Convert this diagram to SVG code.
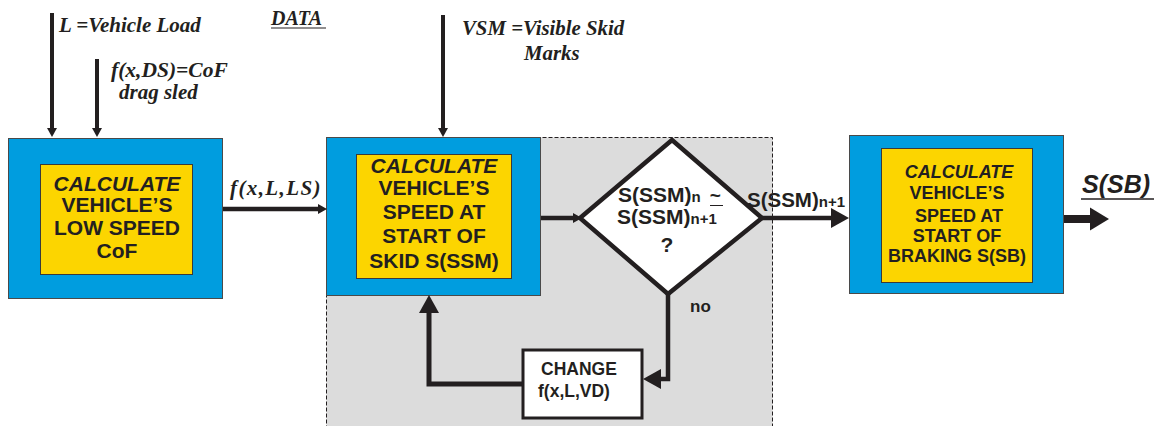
<svg xmlns="http://www.w3.org/2000/svg" width="1159" height="426" viewBox="0 0 1159 426">
<defs>
<style>
.blue{fill:#009ddf;stroke:#4a4a4a;stroke-width:1}
.yel{fill:#fcd500;stroke:#3a3a3a;stroke-width:1}
.sans{font-family:"Liberation Sans",Arial,sans-serif;font-weight:bold;fill:#231f20}
.serif{font-family:"Liberation Serif","Times New Roman",serif;font-weight:bold;font-style:italic;fill:#231f20}
.it{font-style:italic}
.ln{stroke:#231f20;fill:none}
</style>
<marker id="hs" markerUnits="userSpaceOnUse" markerWidth="10" markerHeight="12" refX="0" refY="5" orient="auto" viewBox="0 0 10 10" overflow="visible">
<path d="M0,0 L9,5 L0,10 Z" fill="#231f20"/>
</marker>
<marker id="hl" markerUnits="userSpaceOnUse" markerWidth="20" markerHeight="22" refX="0" refY="10" orient="auto" viewBox="0 0 20 20" overflow="visible">
<path d="M0,0 L18,10 L0,20 Z" fill="#231f20"/>
</marker>
<marker id="hx" markerUnits="userSpaceOnUse" markerWidth="20" markerHeight="24" refX="0" refY="11.5" orient="auto" viewBox="0 0 20 23" overflow="visible">
<path d="M0,0 L19,11.5 L0,23 Z" fill="#231f20"/>
</marker>
</defs>

<g id="loop-region">
<rect x="326.5" y="137.5" width="446" height="300" fill="#dcdcdc" stroke="#231f20" stroke-width="1" stroke-dasharray="4 2"/>
</g>

<g id="title">
<text class="serif" x="271" y="25" font-size="20">DATA</text>
<line x1="271" y1="28" x2="326" y2="28" stroke="#231f20" stroke-width="1.2"/>
</g>

<g id="data-labels">
<text class="serif" x="59" y="32" font-size="21">L =Vehicle Load</text>
<text class="serif" x="111" y="77" font-size="21.5">f(x,DS)=CoF</text>
<text class="serif" x="119" y="99" font-size="21">drag sled</text>
<text class="serif" x="462" y="35" font-size="20.8">VSM =Visible Skid</text>
<text class="serif" x="524" y="60" font-size="20.8">Marks</text>
</g>

<g id="node-lowspeed">
<rect class="blue" x="8.5" y="138.5" width="214" height="160"/>
<rect class="yel" x="40.5" y="164.5" width="152" height="110"/>
<g class="sans" font-size="21" text-anchor="middle">
<text class="it" x="117" y="191">CALCULATE</text>
<text x="117" y="212">VEHICLE’S</text>
<text x="117" y="235">LOW SPEED</text>
<text x="117" y="258">CoF</text>
</g>
</g>

<g id="node-ssm">
<rect class="blue" x="326.5" y="137.5" width="214" height="158"/>
<rect class="yel" x="356.5" y="154.5" width="155" height="124"/>
<g class="sans" font-size="21" text-anchor="middle">
<text class="it" x="434" y="173">CALCULATE</text>
<text x="434" y="195">VEHICLE’S</text>
<text x="434" y="219">SPEED AT</text>
<text x="434" y="243">START OF</text>
<text x="434" y="268">SKID S(SSM)</text>
</g>
</g>

<g id="node-decision">
<path d="M672,140 L762,218 L668,294 L580,218 Z" fill="#ffffff" stroke="#231f20" stroke-width="4.5" stroke-linejoin="miter"/>
<text class="sans" x="618" y="202" font-size="21">S(SSM)<tspan font-size="15">n</tspan><tspan font-size="19" dx="9">~</tspan></text>
<line x1="710" y1="205.5" x2="723" y2="205.5" stroke="#231f20" stroke-width="1"/>
<text class="sans" x="617" y="224" font-size="21">S(SSM)<tspan font-size="15">n+1</tspan></text>
<text class="sans" x="667" y="252" font-size="21" text-anchor="middle">?</text>
</g>

<g id="node-change">
<rect x="523" y="350" width="119" height="68" fill="#ffffff" stroke="#231f20" stroke-width="3"/>
<text class="sans" x="541" y="375" font-size="17.5">CHANGE</text>
<text class="sans" x="538" y="397" font-size="17.5">f(x,L,VD)</text>
</g>

<g id="node-braking">
<rect class="blue" x="849.5" y="135.5" width="214" height="158"/>
<rect class="yel" x="881.5" y="148.5" width="151" height="134"/>
<g class="sans" font-size="18" text-anchor="middle">
<text class="it" x="959" y="178">CALCULATE</text>
<text x="957" y="199">VEHICLE’S</text>
<text x="959" y="222">SPEED AT</text>
<text x="957" y="242">START OF</text>
<text x="957" y="262">BRAKING S(SB)</text>
</g>
</g>

<g id="output">
<text class="sans it" x="1082" y="193" font-size="25">S(SB)</text>
<line x1="1081" y1="199" x2="1154" y2="199" stroke="#231f20" stroke-width="1.5"/>
</g>

<g id="connectors">
<line class="ln" x1="52" y1="13" x2="52" y2="128" stroke-width="4" marker-end="url(#hs)"/>
<line class="ln" x1="97" y1="59" x2="97" y2="128" stroke-width="4" marker-end="url(#hs)"/>
<line class="ln" x1="443" y1="15" x2="443" y2="128" stroke-width="4" marker-end="url(#hs)"/>
<line class="ln" x1="223" y1="209" x2="318" y2="209" stroke-width="4.5" marker-end="url(#hs)"/>
<text class="serif" x="230" y="195" font-size="21" letter-spacing="1.4">f(x,L,LS)</text>
<line class="ln" x1="541" y1="218" x2="573" y2="218" stroke-width="4.5" marker-end="url(#hs)"/>
<line class="ln" x1="762" y1="218" x2="831" y2="218" stroke-width="4.5" marker-end="url(#hl)"/>
<text class="sans" x="747" y="207" font-size="20.5">S(SSM)<tspan font-size="15">n+1</tspan></text>
<line class="ln" x1="1064" y1="219" x2="1090" y2="219" stroke-width="8" marker-end="url(#hx)"/>
<path class="ln" d="M668,293 V379 H661" stroke-width="4.5" marker-end="url(#hl)"/>
<text class="sans" x="690" y="312" font-size="17">no</text>
<path class="ln" d="M523,384 H429 V313" stroke-width="5" marker-end="url(#hl)"/>
</g>
</svg>
